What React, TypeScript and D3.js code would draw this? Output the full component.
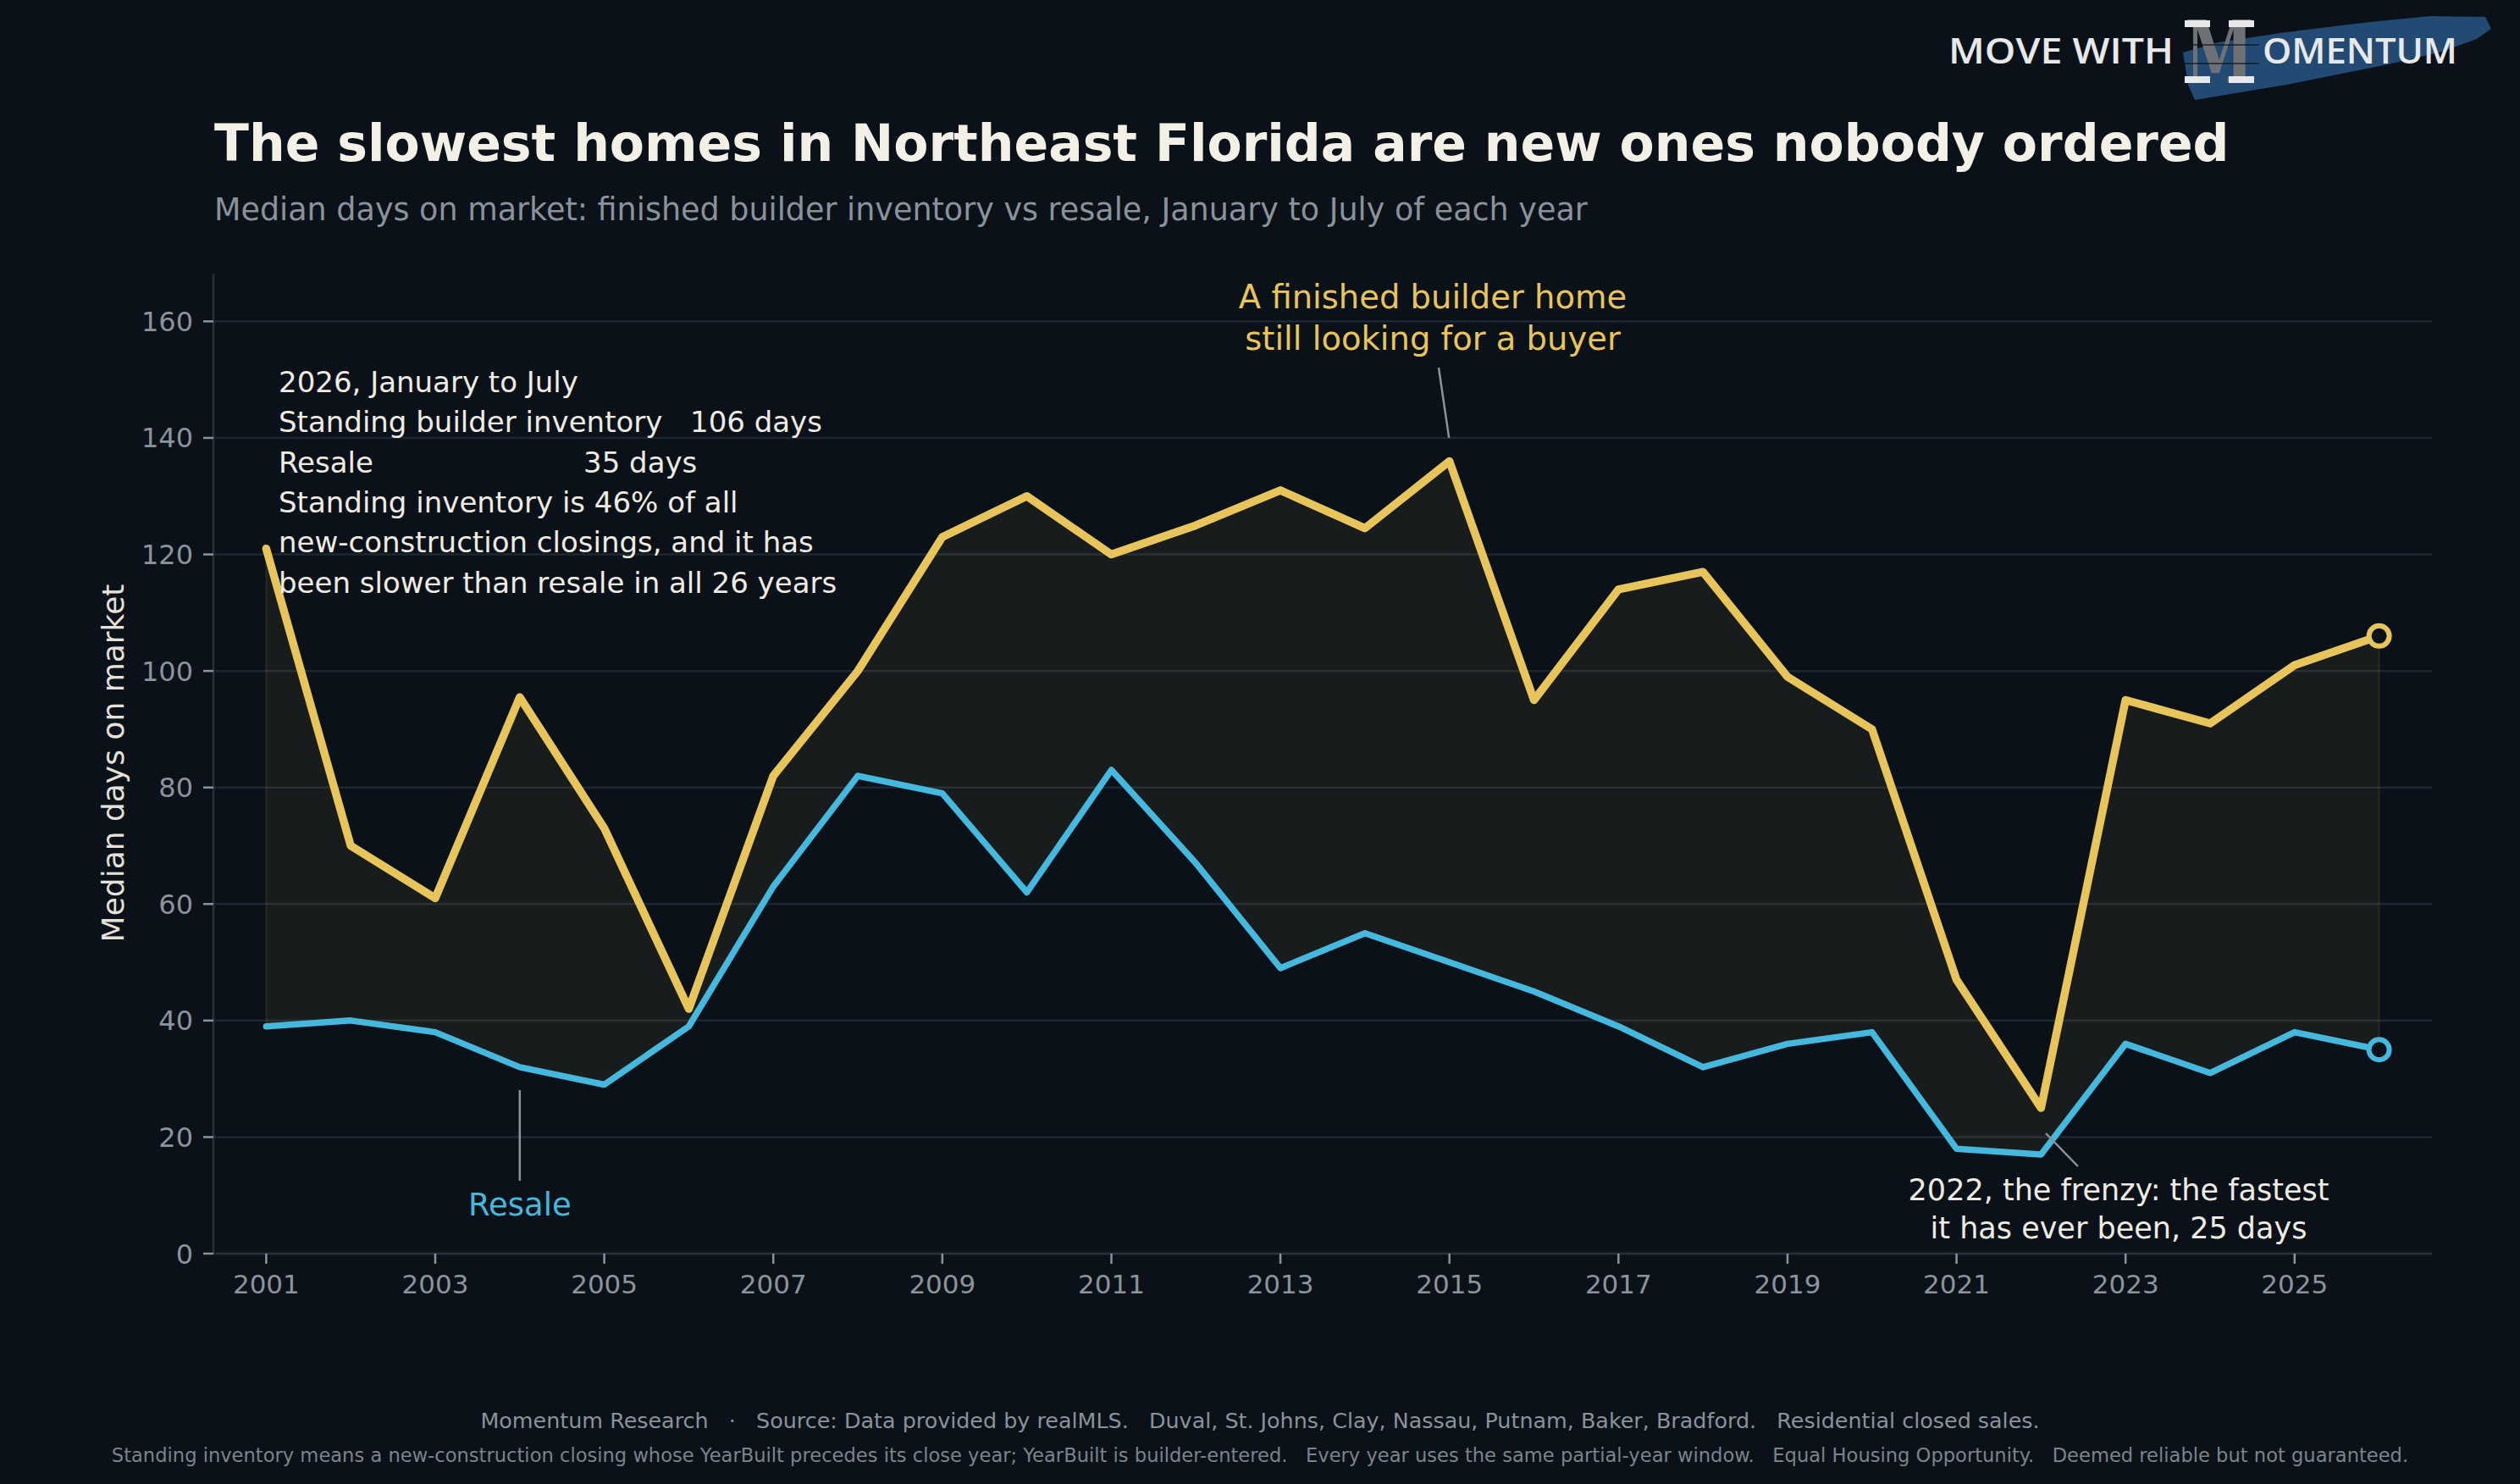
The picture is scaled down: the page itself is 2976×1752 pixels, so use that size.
import React from "react";
import * as d3 from "d3";

const years = [2001, 2002, 2003, 2004, 2005, 2006, 2007, 2008, 2009, 2010, 2011, 2012, 2013, 2014, 2015, 2016, 2017, 2018, 2019, 2020, 2021, 2022, 2023, 2024, 2025, 2026];
const builderDays = [121, 70, 61, 95.5, 73, 42, 82, 100, 123, 130, 120, 125, 131, 124.5, 136, 95, 114, 117, 99, 90, 47, 25, 95, 91, 101, 106];
const resaleDays = [39, 40, 38, 32, 29, 39, 63, 82, 79, 62, 83, 67, 49, 55, 50, 45, 39, 32, 36, 38, 18, 17, 36, 31, 38, 35];
const yTicks = [0, 20, 40, 60, 80, 100, 120, 140, 160];
const xTicks = [2001, 2003, 2005, 2007, 2009, 2011, 2013, 2015, 2017, 2019, 2021, 2023, 2025];

const W = 2976;
const H = 1752;
const BG = "#0b1118";
const YELLOW = "#e8c55a";
const BLUE = "#45b8de";
const GRID = "#1c2731";
const TICK = "#8b939c";
const FONT = "DejaVu Sans";

const x = d3.scaleLinear().domain([2000.375, 2026.625]).range([252, 2872]);
const y = d3.scaleLinear().domain([0, 168.2]).range([1480, 323]);

export default function App() {
  const data = years.map((yr, i) => ({ yr, b: builderDays[i], r: resaleDays[i] }));
  const area = d3
    .area<{ yr: number; b: number; r: number }>()
    .x((d) => x(d.yr))
    .y0((d) => y(d.r))
    .y1((d) => y(d.b));
  const lineB = d3
    .line<{ yr: number; b: number; r: number }>()
    .x((d) => x(d.yr))
    .y((d) => y(d.b));
  const lineR = d3
    .line<{ yr: number; b: number; r: number }>()
    .x((d) => x(d.yr))
    .y((d) => y(d.r));
  const last = data[data.length - 1];

  const boxLines = [
    "2026, January to July",
    "Standing builder inventory",
    "Resale",
    "Standing inventory is 46% of all",
    "new-construction closings, and it has",
    "been slower than resale in all 26 years",
  ];

  return (
    <svg
      width={W}
      height={H}
      viewBox={`0 0 ${W} ${H}`}
      style={{ position: "fixed", left: 0, top: 0, display: "block", background: BG }}
      fontFamily={FONT}
    >
      <rect x={0} y={0} width={W} height={H} fill={BG} />

      {/* Logo */}
      <g>
        <path
          d="M2578,62 L2620,50 L2700,38 L2790,27 L2870,19 L2935,20 L2942,34 L2925,46 L2880,62 L2820,76 L2760,88 L2700,100 L2640,110 L2592,118 L2584,100 Z"
          fill="#234a72"
        />
        <text x={2301} y={75} fontFamily="Open Sans" fontWeight={600} fontSize={42} fill="#e6e8ea" textLength={266} lengthAdjust="spacingAndGlyphs">
          MOVE WITH
        </text>
        <text x={2580} y={97} fontFamily="DejaVu Serif" fontWeight={700} fontSize={101} fill="#6e7176" textLength={82} lengthAdjust="spacingAndGlyphs">
          M
        </text>
        <rect x={2580} y={24} width={30} height={8} fill="#e6e8ea" />
        <rect x={2632} y={24} width={30} height={8} fill="#e6e8ea" />
        <rect x={2580} y={90} width={30} height={8} fill="#e6e8ea" />
        <rect x={2632} y={90} width={30} height={8} fill="#e6e8ea" />
        <rect x={2572} y={52} width={96} height={2} fill={BG} opacity={0.6} />
        <rect x={2572} y={74} width={96} height={2} fill={BG} opacity={0.6} />
        <text x={2672} y={75} fontFamily="Open Sans" fontWeight={600} fontSize={42} fill="#e6e8ea" textLength={230} lengthAdjust="spacingAndGlyphs">
          OMENTUM
        </text>
      </g>

      {/* Titles */}
      <text x={253} y={190} fontSize={60} fontWeight={700} fill="#f3f0e8">
        The slowest homes in Northeast Florida are new ones nobody ordered
      </text>
      <text x={253} y={260} fontSize={36.5} fill="#8a929b">
        Median days on market: finished builder inventory vs resale, January to July of each year
      </text>

      {/* Grid */}
      {yTicks.map((t) => (
        <line key={`g${t}`} x1={252} x2={2872} y1={y(t)} y2={y(t)} stroke={GRID} strokeWidth={2.5} />
      ))}

      {/* Spines */}
      <line x1={252} x2={252} y1={323} y2={1480} stroke="#27313a" strokeWidth={2.5} />
      <line x1={252} x2={2872} y1={1480} y2={1480} stroke="#27313a" strokeWidth={2.5} />

      {/* Y ticks */}
      {yTicks.map((t) => (
        <g key={`y${t}`}>
          <line x1={240} x2={252} y1={y(t)} y2={y(t)} stroke={TICK} strokeWidth={2.5} />
          <text x={228} y={y(t)} dy="0.36em" textAnchor="end" fontSize={32} fill={TICK}>
            {t}
          </text>
        </g>
      ))}
      {/* X ticks */}
      {xTicks.map((t) => (
        <g key={`x${t}`}>
          <line x1={x(t)} x2={x(t)} y1={1480} y2={1492} stroke={TICK} strokeWidth={2.5} />
          <text x={x(t)} y={1527} textAnchor="middle" fontSize={31} fill={TICK}>
            {t}
          </text>
        </g>
      ))}

      <text
        transform={`translate(133,901) rotate(-90)`}
        textAnchor="middle"
        dy="0.36em"
        fontSize={36}
        fill="#e4e1da"
      >
        Median days on market
      </text>

      {/* Gap area */}
      <path d={area(data) || ""} fill={YELLOW} fillOpacity={0.065} stroke={YELLOW} strokeOpacity={0.08} strokeWidth={3} />

      {/* Lines */}
      <path d={lineR(data) || ""} fill="none" stroke={BLUE} strokeWidth={7.5} strokeLinejoin="round" strokeLinecap="round" />
      <path d={lineB(data) || ""} fill="none" stroke={YELLOW} strokeWidth={9.5} strokeLinejoin="round" strokeLinecap="round" />

      {/* End markers */}
      <circle cx={x(last.yr)} cy={y(last.b)} r={12} fill={BG} stroke={YELLOW} strokeWidth={6} />
      <circle cx={x(last.yr)} cy={y(last.r)} r={12} fill={BG} stroke={BLUE} strokeWidth={6} />

      {/* Annotation box */}
      <g fontSize={34} fill="#eeebe3">
        {boxLines.map((s, i) => (
          <text key={i} x={329} y={463 + i * 47.3}>
            {s}
          </text>
        ))}
        <text x={815} y={463 + 47.3}>106 days</text>
        <text x={689} y={463 + 2 * 47.3}>35 days</text>
      </g>

      {/* Builder annotation */}
      <text x={1692} y={364} textAnchor="middle" fontSize={38.5} fill={YELLOW}>
        A finished builder home
      </text>
      <text x={1692} y={413} textAnchor="middle" fontSize={38.5} fill={YELLOW}>
        still looking for a buyer
      </text>
      <line x1={1699} y1={434} x2={x(2015) - 0.5} y2={517} stroke="#8b939c" strokeWidth={2.5} />

      {/* Resale label */}
      <line x1={x(2004)} x2={x(2004)} y1={1287} y2={1394} stroke="#8b939c" strokeWidth={2.5} />
      <text x={x(2004)} y={1435} textAnchor="middle" fontSize={37} fill={BLUE}>
        Resale
      </text>

      {/* 2022 annotation */}
      <line x1={2416} y1={1338} x2={2454} y2={1377} stroke="#8b939c" strokeWidth={2.5} />
      <text x={2502} y={1417} textAnchor="middle" fontSize={35} fill="#eeebe3">
        2022, the frenzy: the fastest
      </text>
      <text x={2502} y={1462} textAnchor="middle" fontSize={35} fill="#eeebe3">
        it has ever been, 25 days
      </text>

      {/* Footer */}
      <text x={1488} y={1686} textAnchor="middle" fontSize={25.4} fill="#8a929b" style={{ whiteSpace: "pre" }}>
        {"Momentum Research   ·   Source: Data provided by realMLS.   Duval, St. Johns, Clay, Nassau, Putnam, Baker, Bradford.   Residential closed sales."}
      </text>
      <text x={1488} y={1726} textAnchor="middle" fontSize={22.6} fill="#7b838c" style={{ whiteSpace: "pre" }}>
        {"Standing inventory means a new-construction closing whose YearBuilt precedes its close year; YearBuilt is builder-entered.   Every year uses the same partial-year window.   Equal Housing Opportunity.   Deemed reliable but not guaranteed."}
      </text>
    </svg>
  );
}
